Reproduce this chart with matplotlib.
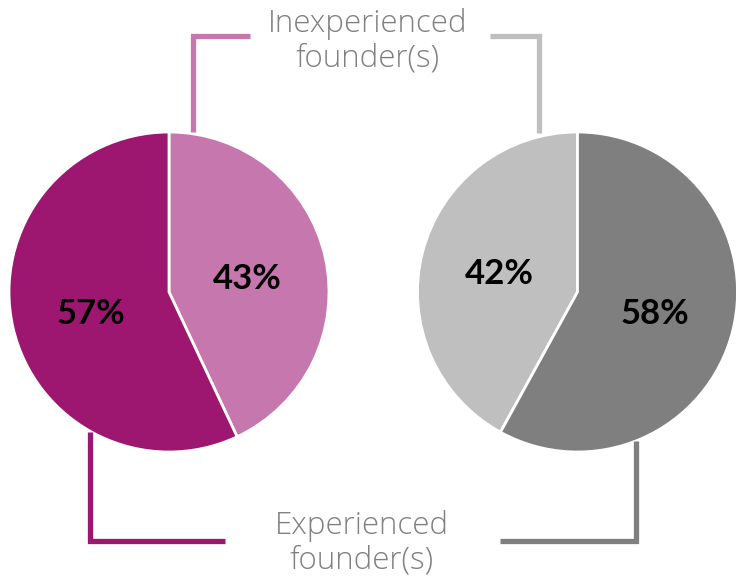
import matplotlib.pyplot as plt

# data
left_values = [43, 57]      # inexperienced, experienced
right_values = [42, 58]
left_colors = ["#C577AE", "#9D1670"]
right_colors = ["#BFBFBF", "#7F7F7F"]
top_label = "Inexperienced\nfounder(s)"
bottom_label = "Experienced\nfounder(s)"

W, H = 736, 578
fig = plt.figure(figsize=(W / 100, H / 100), dpi=100)
ax = fig.add_axes([0, 0, 1, 1])


def Y(y):
    # image coordinates -> data coordinates
    return H - y


R = 160
left_c = (169, Y(292))
right_c = (577.5, Y(292))

ax.pie(left_values, colors=left_colors, startangle=90, counterclock=False,
       center=left_c, radius=R, frame=True,
       wedgeprops=dict(edgecolor="white", linewidth=2))
ax.pie(right_values, colors=right_colors, startangle=90, counterclock=True,
       center=right_c, radius=R, frame=True,
       wedgeprops=dict(edgecolor="white", linewidth=2))
ax.set_xlim(0, W)
ax.set_ylim(0, H)
ax.set_aspect("equal")
ax.axis("off")

pct_font = dict(fontsize=25, fontweight="bold", family=["Lato", "DejaVu Sans"],
                color="black", ha="center", va="center")
ax.text(247, Y(279), f"{left_values[0]}%", **pct_font)
ax.text(91, Y(314), f"{left_values[1]}%", **pct_font)
ax.text(499, Y(274), f"{right_values[0]}%", **pct_font)
ax.text(655, Y(314), f"{right_values[1]}%", **pct_font)

# connector lines
lw = 3.8
ax.plot([193, 193, 250], [Y(132), Y(36), Y(36)], color=left_colors[0], lw=lw,
        solid_joinstyle="miter", solid_capstyle="butt")
ax.plot([490, 539, 539], [Y(36), Y(36), Y(133)], color=right_colors[0], lw=lw,
        solid_joinstyle="miter", solid_capstyle="butt")
ax.plot([90, 90, 225], [Y(432), Y(541), Y(541)], color=left_colors[1], lw=lw,
        solid_joinstyle="miter", solid_capstyle="butt")
ax.plot([500, 636, 636], [Y(541), Y(541), Y(441)], color=right_colors[1], lw=lw,
        solid_joinstyle="miter", solid_capstyle="butt")

lab_font = dict(fontsize=22.5, fontweight="light", family=["Open Sans", "DejaVu Sans"],
                color="#808080", ha="center", va="center", linespacing=1.1)
ax.text(368, Y(41), top_label, **lab_font)
ax.text(362, Y(543), bottom_label, **lab_font)

fig.savefig("out.png", dpi=100)
